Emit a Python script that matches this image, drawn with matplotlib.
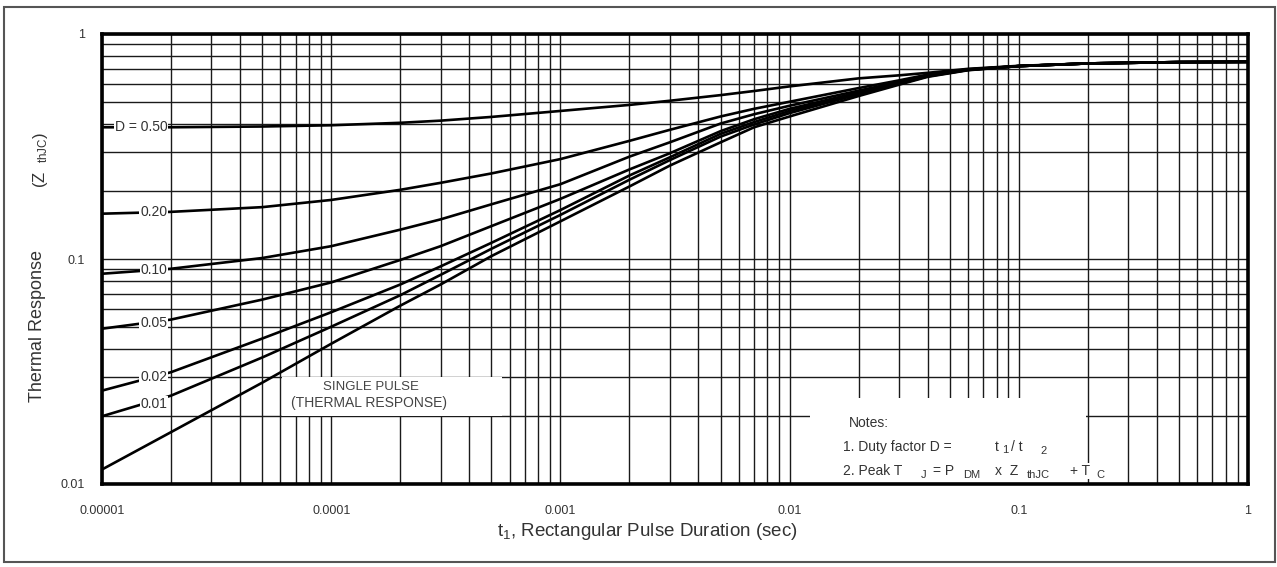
import numpy as np
import matplotlib
matplotlib.use("Agg")
import matplotlib.pyplot as plt
from matplotlib.patches import Rectangle
from matplotlib.ticker import LogLocator, NullFormatter

plt.rcParams["font.family"] = ["Liberation Sans", "DejaVu Sans"]
plt.rcParams["mathtext.fontset"] = "custom"
plt.rcParams["mathtext.rm"] = "Liberation Sans"
plt.rcParams["mathtext.it"] = "Liberation Sans"

# pulse duration (sec) where the curves were read
t1 = [1e-5, 2e-5, 5e-5, 1e-4, 2e-4, 3e-4, 5e-4, 1e-3, 2e-3, 3e-3, 5e-3, 7e-3,
      1e-2, 2e-2, 3e-2, 4e-2, 6e-2, 1e-1, 2e-1, 5e-1, 1.0]

# normalised thermal response Z_thJC, one list per duty factor
z_d050 = [0.385, 0.385, 0.388, 0.393, 0.403, 0.412, 0.428, 0.455, 0.484, 0.505, 0.535, 0.558,
          0.585, 0.635, 0.655, 0.672, 0.700, 0.722, 0.740, 0.750, 0.752]
z_d020 = [0.159, 0.162, 0.170, 0.183, 0.203, 0.218, 0.240, 0.278, 0.335, 0.375, 0.430, 0.465,
          0.500, 0.575, 0.622, 0.660, 0.697, 0.720, 0.740, 0.750, 0.752]
z_d010 = [0.086, 0.0905, 0.101, 0.114, 0.135, 0.150, 0.175, 0.215, 0.285, 0.330, 0.400, 0.440,
          0.480, 0.560, 0.612, 0.655, 0.695, 0.720, 0.740, 0.750, 0.752]
z_d005 = [0.049, 0.0538, 0.066, 0.0787, 0.099, 0.114, 0.140, 0.185, 0.250, 0.295, 0.370, 0.418,
          0.465, 0.550, 0.606, 0.652, 0.694, 0.720, 0.740, 0.750, 0.752]
z_d002 = [0.026, 0.0314, 0.0443, 0.058, 0.077, 0.0927, 0.118, 0.165, 0.235, 0.283, 0.360, 0.406,
          0.455, 0.545, 0.603, 0.650, 0.693, 0.720, 0.740, 0.750, 0.752]
z_d001 = [0.020, 0.0247, 0.0365, 0.050, 0.069, 0.085, 0.111, 0.157, 0.225, 0.275, 0.350, 0.396,
          0.445, 0.540, 0.600, 0.648, 0.692, 0.720, 0.740, 0.750, 0.752]
z_single = [0.0116, 0.017, 0.0282, 0.042, 0.062, 0.077, 0.103, 0.147, 0.210, 0.260, 0.330, 0.385,
            0.430, 0.530, 0.595, 0.645, 0.690, 0.720, 0.740, 0.750, 0.752]

curves = [z_d050, z_d020, z_d010, z_d005, z_d002, z_d001, z_single]
curve_labels = ["D = 0.50", "0.20", "0.10", "0.05", "0.02", "0.01"]
label_y = [0.386, 0.162, 0.0896, 0.052, 0.030, 0.0226]

xticks = [1e-5, 1e-4, 1e-3, 1e-2, 1e-1, 1.0]
xtick_labels = ["0.00001", "0.0001", "0.001", "0.01", "0.1", "1"]
yticks = [0.01, 0.1, 1.0]
ytick_labels = ["0.01", "0.1", "1"]

W, H = 1277, 567
AX_L, AX_T, AX_W, AX_H = 102, 34, 1146, 450
fig = plt.figure(figsize=(W / 100, H / 100), dpi=100)
ax = fig.add_axes([AX_L / W, 1 - (AX_T + AX_H) / H, AX_W / W, AX_H / H])
ax.set_xscale("log")
ax.set_yscale("log")
ax.set_xlim(1e-5, 1)
ax.set_ylim(0.01, 1)


def axpos(px, py):
    # pixel position in the page -> axes fraction
    return (px - AX_L) / AX_W, (AX_T + AX_H - py) / AX_H


txt = "#333333"
ax.xaxis.set_minor_locator(LogLocator(base=10, subs=np.arange(2, 10)))
ax.yaxis.set_minor_locator(LogLocator(base=10, subs=np.arange(2, 10)))
ax.xaxis.set_minor_formatter(NullFormatter())
ax.yaxis.set_minor_formatter(NullFormatter())
ax.set_xticks(xticks, labels=xtick_labels)
ax.set_yticks(yticks, labels=ytick_labels)
ax.tick_params(which="both", length=0, labelsize=9, colors=txt)
ax.tick_params(axis="x", pad=15)
ax.tick_params(axis="y", pad=12)
ax.set_axisbelow(True)
ax.grid(True, which="both", color="#1a1a1a", lw=1.0)
for s in ax.spines.values():
    s.set_linewidth(2.6)
    s.set_color("black")
    s.set_zorder(6)

for z in curves:
    ax.plot(t1, z, color="black", lw=1.9, zorder=3, solid_joinstyle="round")

# duty factor labels sitting on the curves
for lab, ly in zip(curve_labels, label_y):
    ax.text(10 ** -4.715, ly, lab, ha="right", va="center", fontsize=10, color=txt,
            zorder=4, bbox=dict(fc="white", ec="none", pad=0.6))

# white patches behind the annotations
ax.add_patch(Rectangle((0.157, 0.151), 0.192, 0.087, transform=ax.transAxes,
                       fc="white", ec="none", zorder=1))
ax.add_patch(Rectangle((0.618, 0.0), 0.241, 0.191, transform=ax.transAxes,
                       fc="white", ec="none", zorder=1))

ax.text(0.235, 0.215, "SINGLE PULSE", transform=ax.transAxes, ha="center", va="center",
        fontsize=9.5, color="#444444", zorder=4)
ax.text(0.233, 0.18, "(THERMAL RESPONSE)", transform=ax.transAxes, ha="center", va="center",
        fontsize=10, color="#444444", zorder=4)

# notes block, pieces placed like the scanned original
notes = [
    ("Notes:", 849, 423, 10),
    ("1. Duty factor D =", 843, 447, 10),
    ("t", 995, 447, 10), ("1", 1002, 450, 8), ("/ t", 1011, 447, 10), ("2", 1040, 451, 8),
    ("2. Peak T", 843, 471, 10), ("J", 921, 475, 8), ("= P", 933, 471, 10),
    ("DM", 963, 475, 8), ("x  Z", 995, 471, 10), ("thJC", 1027, 475, 8),
    ("+ T", 1070, 471, 10), ("C", 1096, 475, 8),
]
for s, px, py, fs in notes:
    x, y = axpos(px, py)
    ax.text(x, y, s, transform=ax.transAxes, ha="left", va="center", fontsize=fs,
            color=txt, zorder=4, bbox=dict(fc="white", ec="none", pad=0.5))

fig.text(647 / W, 1 - 532 / H, r"t$_1$, Rectangular Pulse Duration (sec)", ha="center",
         va="center", fontsize=13.5, color=txt)
fig.text(38 / W, 1 - 326 / H, "Thermal Response", rotation=90, ha="center", va="center",
         fontsize=13, color=txt)
fig.text(41 / W, 1 - 160 / H, r"(Z  $_{thJC}$)", rotation=90, ha="center", va="center",
         fontsize=12, color=txt)

# scanned page frame
fig.add_artist(Rectangle((4 / W, 1 - 562 / H), 1271 / W, 555 / H, transform=fig.transFigure,
                         fill=False, ec="#555555", lw=1.5))

fig.savefig("out.png", dpi=100)
